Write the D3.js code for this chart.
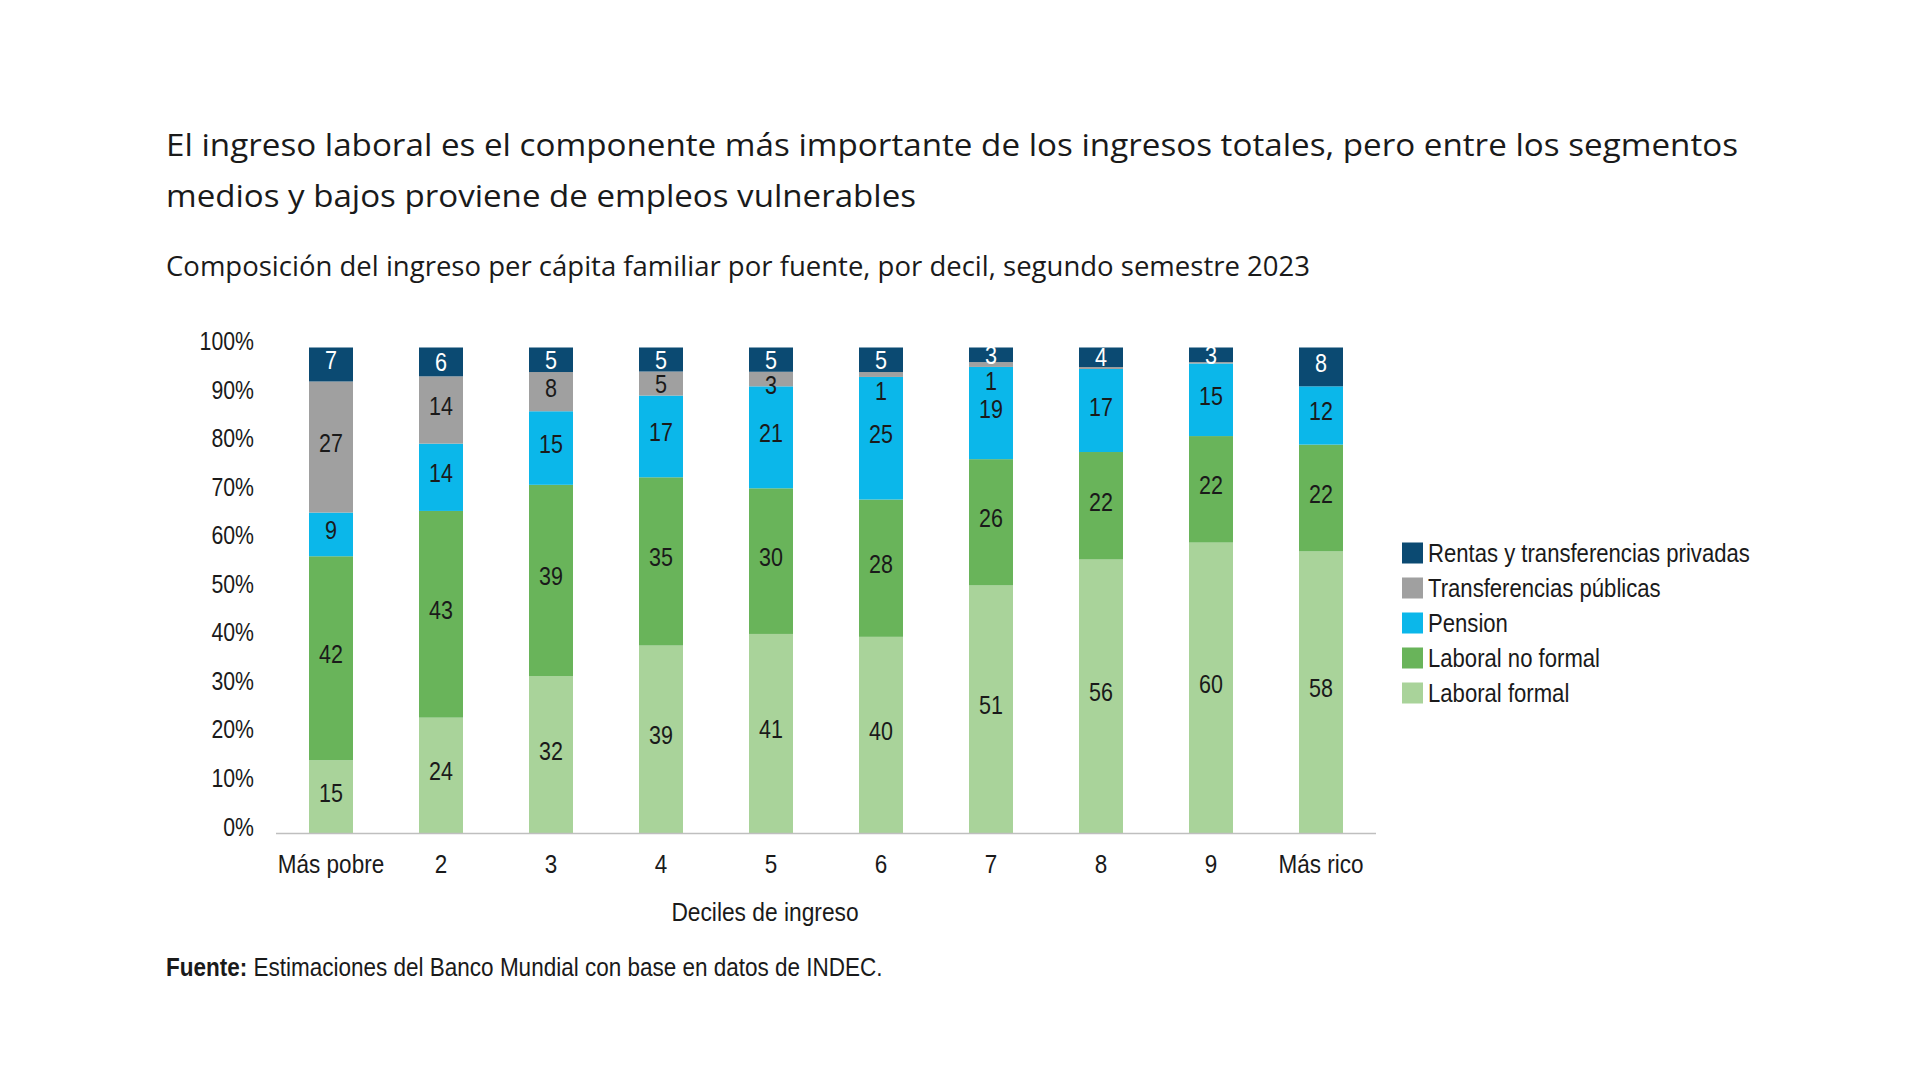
<!DOCTYPE html>
<html>
<head>
<meta charset="utf-8">
<script src="https://cdn.jsdelivr.net/npm/d3@7/dist/d3.min.js"></script>
<style>
  html, body { margin: 0; padding: 0; background: #ffffff; }
  svg { display: block; }
  .chartfont { font-family: "Liberation Sans", Arial, sans-serif; }
  .titlefont { font-family: "Open Sans", "Noto Sans", sans-serif; }
</style>
</head>
<body>
<svg id="chart" width="1920" height="1065"></svg>
<script>
// ---- Data ----
const categories = ["Más pobre", "2", "3", "4", "5", "6", "7", "8", "9", "Más rico"];
const seriesNames = ["Laboral formal", "Laboral no formal", "Pension", "Transferencias públicas", "Rentas y transferencias privadas"];
const laboralFormal   = [15, 24, 32, 39, 41, 40, 51, 56, 60, 58];
const laboralNoFormal = [42, 43, 39, 35, 30, 28, 26, 22, 22, 22];
const pension         = [9, 14, 15, 17, 21, 25, 19, 17, 15, 12];
const transfPublicas  = [27, 14, 8, 5, 3, 1, 1, 0.4, 0.3, 0];
const rentasPrivadas  = [7, 6, 5, 5, 5, 5, 3, 4, 3, 8];
const yTickValues = [0, 10, 20, 30, 40, 50, 60, 70, 80, 90, 100];
const seriesColors = ["#a9d39a", "#69b45a", "#0bb7ea", "#a0a0a0", "#0b4a72"];
const labelColors = ["#1a1a1a", "#1a1a1a", "#1a1a1a", "#1a1a1a", "#ffffff"];

const titleLines = [
  "El ingreso laboral es el componente más importante de los ingresos totales, pero entre los segmentos",
  "medios y bajos proviene de empleos vulnerables"
];
const subtitle = "Composición del ingreso per cápita familiar por fuente, por decil, segundo semestre 2023";
const xAxisTitle = "Deciles de ingreso";
const sourceBold = "Fuente:";
const sourceText = " Estimaciones del Banco Mundial con base en datos de INDEC.";

// ---- Build table ----
const seriesArrays = [laboralFormal, laboralNoFormal, pension, transfPublicas, rentasPrivadas];
const table = categories.map((c, i) => {
  const row = { cat: c };
  seriesNames.forEach((s, k) => { row[s] = seriesArrays[k][i]; });
  return row;
});

// condense text horizontally (reference uses a narrow face)
function narrow(sel, f) {
  sel.each(function () {
    const L = this.getComputedTextLength();
    d3.select(this).attr("textLength", (L * f).toFixed(1)).attr("lengthAdjust", "spacingAndGlyphs");
  });
}

const svg = d3.select("#chart");

// ---- Titles ----
const titleW = [1572, 750];
titleLines.forEach((t, i) => {
  svg.append("text").attr("class", "titlefont")
    .attr("x", 166).attr("y", 156 + i * 51)
    .attr("font-size", 31).attr("fill", "#1a1a1a")
    .attr("textLength", titleW[i]).attr("lengthAdjust", "spacingAndGlyphs")
    .text(t);
});
svg.append("text").attr("class", "titlefont")
  .attr("x", 166).attr("y", 276)
  .attr("font-size", 28).attr("fill", "#1a1a1a")
  .attr("textLength", 1144).attr("lengthAdjust", "spacingAndGlyphs")
  .text(subtitle);

// ---- Scales ----
const x = d3.scaleBand().domain(categories).range([276, 1376]).paddingInner(0.6).paddingOuter(0.3);
const y = d3.scaleLinear().domain([0, 1]).range([833, 347.5]);

const stack = d3.stack().keys(seriesNames).offset(d3.stackOffsetExpand);
const stacked = stack(table);

// ---- Bars ----
const g = svg.append("g");
const layers = g.selectAll("g.layer").data(stacked).join("g")
  .attr("class", "layer")
  .attr("fill", (d, i) => seriesColors[i]);

layers.selectAll("rect").data(d => d).join("rect")
  .attr("x", d => x(d.data.cat))
  .attr("width", x.bandwidth())
  .attr("y", d => y(d[1]))
  .attr("height", d => Math.max(0, y(d[0]) - y(d[1])));

// ---- Data labels ----
const labelG = svg.append("g");
stacked.forEach((layer, k) => {
  layer.forEach(d => {
    const v = d.data[layer.key];
    if (v < 1) return;
    const top = y(d[1]), bot = y(d[0]);
    const h = bot - top;
    let cy = (top + bot) / 2 - (h > 30 ? 4 : 0);
    if (k === 3 && h < 10) cy = bot + 14;
    else if (k === 3 && h < 20) cy = bot - 1;
    labelG.append("text").attr("class", "chartfont")
      .attr("x", x(d.data.cat) + x.bandwidth() / 2)
      .attr("y", cy)
      .attr("dy", "0.36em")
      .attr("text-anchor", "middle")
      .attr("font-size", 25)
      .attr("fill", labelColors[k])
      .text(v);
  });
});
narrow(labelG.selectAll("text"), 0.86);

// ---- Axes ----
const yAxis = d3.axisLeft(y).tickValues(yTickValues.map(v => v / 100))
  .tickFormat(v => Math.round(v * 100) + "%").tickSize(0).tickPadding(0);
const yg = svg.append("g").attr("transform", "translate(254,0)").call(yAxis);
yg.select(".domain").remove();
yg.selectAll("text").attr("class", "chartfont").attr("font-size", 25)
  .attr("fill", "#1a1a1a").attr("dy", "0.32em").attr("y", -6).attr("x", 0);
narrow(yg.selectAll("text"), 0.85);

const xAxis = d3.axisBottom(x).tickSize(0).tickPadding(0);
const xg = svg.append("g").attr("transform", "translate(0,833)").call(xAxis);
xg.select(".domain").remove();
xg.selectAll("text").attr("class", "chartfont").attr("font-size", 25)
  .attr("fill", "#1a1a1a").attr("y", 40).attr("dy", 0);
narrow(xg.selectAll("text"), 0.9);

svg.append("line").attr("x1", 276).attr("x2", 1376).attr("y1", 833.5).attr("y2", 833.5)
  .attr("stroke", "#bfbfbf").attr("stroke-width", 1.5);

const xt = svg.append("text").attr("class", "chartfont")
  .attr("x", 765).attr("y", 921).attr("text-anchor", "middle")
  .attr("font-size", 25).attr("fill", "#1a1a1a").text(xAxisTitle);
narrow(xt, 0.91);

// ---- Legend ----
const legendOrder = seriesNames.map((s, i) => i).reverse();
const lg = svg.append("g");
legendOrder.forEach((k, i) => {
  const cy = 553 + i * 35;
  lg.append("rect").attr("x", 1402).attr("y", cy - 10.5).attr("width", 21).attr("height", 21)
    .attr("fill", seriesColors[k]);
  lg.append("text").attr("class", "chartfont")
    .attr("x", 1428).attr("y", cy).attr("dy", "0.36em")
    .attr("font-size", 26).attr("fill", "#1a1a1a").text(seriesNames[k]);
});
narrow(lg.selectAll("text"), 0.85);

// ---- Source ----
const src = svg.append("text").attr("class", "chartfont")
  .attr("x", 166).attr("y", 976).attr("font-size", 25).attr("fill", "#1a1a1a");
src.append("tspan").attr("font-weight", "bold").text(sourceBold);
src.append("tspan").text(sourceText);
narrow(src, 0.9);
</script>
</body>
</html>
